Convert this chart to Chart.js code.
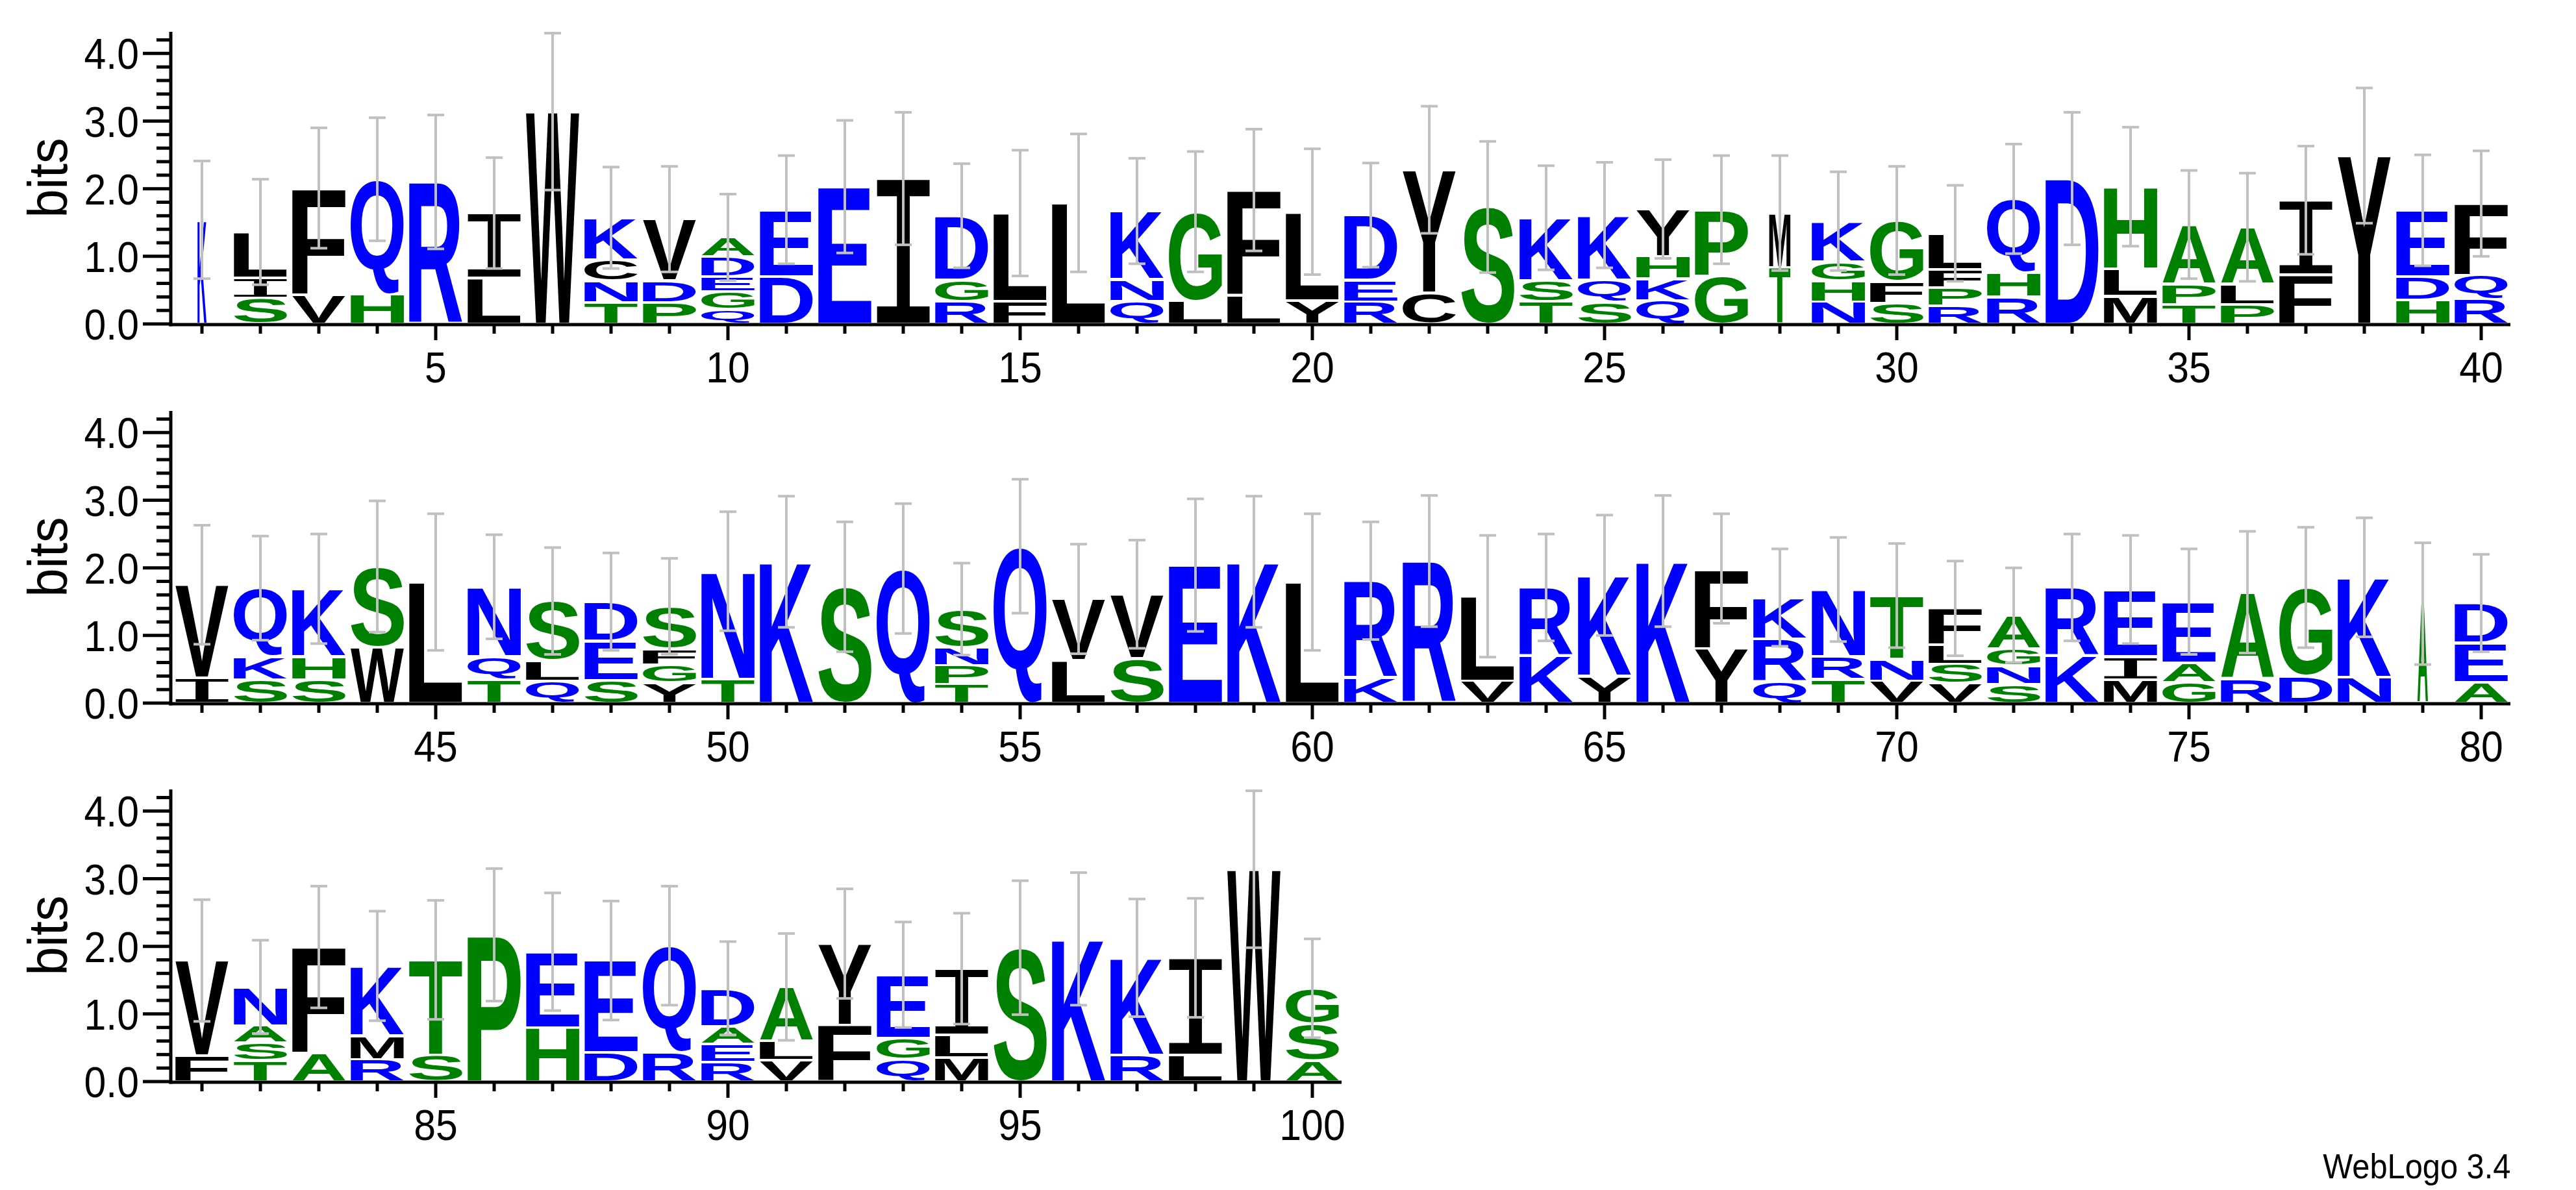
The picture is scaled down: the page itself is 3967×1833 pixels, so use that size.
<!DOCTYPE html>
<html>
<head>
<meta charset="utf-8">
<title>Sequence logo</title>
<script src="https://cdn.jsdelivr.net/npm/chart.js@4.4.0/dist/chart.umd.min.js"></script>
<style>
  html, body { margin: 0; padding: 0; background: #fff; }
  body { width: 3967px; height: 1833px; position: relative; overflow: hidden; }
  canvas { position: absolute; left: 0; }
  #credit {
    position: absolute; right: 101px; top: 1770px;
    font: 53px "Liberation Sans", Arial, sans-serif; line-height: 53px;
    transform: scaleX(0.92); transform-origin: right center; color: #000;
  }
</style>
</head>
<body>
<canvas id="row1" width="3967" height="640" style="top:0px"></canvas>
<canvas id="row2" width="3967" height="640" style="top:584px"></canvas>
<canvas id="row3" width="3967" height="640" style="top:1167px"></canvas>
<div id="credit">WebLogo 3.4</div>
<script>
// letters of each stack, bottom to top
const stackLetters = [
    'K', 'SIL', 'VF', 'HQ', 'R', 'LI', 'W', 'TNCK', 'PDV', 'QGEDA',
    'DE', 'E', 'I', 'RGD', 'FL', 'L', 'QNK', 'LG', 'LF', 'YL',
    'RED', 'CY', 'S', 'TSK', 'SQK', 'QKHY', 'GP', 'TM', 'NHGK', 'SFG',
    'RPFL', 'RHQ', 'D', 'MLH', 'TPA', 'PLA', 'FI', 'Y', 'HDE', 'RQF',
    'IV', 'SKQ', 'SHK', 'WS', 'L', 'TQN', 'QLS', 'SED', 'YGFS', 'TN',
    'K', 'S', 'Q', 'TPNS', 'Q', 'LV', 'SV', 'E', 'K', 'L',
    'KR', 'R', 'VL', 'KR', 'YK', 'K', 'YF', 'QRK', 'TRN', 'VNT',
    'VSLF', 'SNGA', 'KR', 'MIE', 'GAE', 'RA', 'DG', 'NK', 'A', 'AED',
    'FV', 'TSAN', 'AF', 'RMK', 'ST', 'P', 'HE', 'DE', 'RQ', 'READ',
    'VLA', 'FY', 'QGE', 'MLI', 'S', 'K', 'RK', 'LI', 'W', 'ASG'
];

// height of each letter in bits, same order
const stackHeights = [
    [1.54], [0.38, 0.30, 0.68], [0.43, 1.58], [0.44, 1.70], [2.10],
    [0.68, 0.96], [3.14], [0.32, 0.32, 0.31, 0.62], [0.32, 0.32, 0.91], [0.22, 0.26, 0.22, 0.30, 0.28],
    [0.70, 0.99], [2.03], [2.15], [0.33, 0.32, 0.95], [0.34, 1.30],
    [1.79], [0.34, 0.32, 1.01], [0.34, 1.32], [0.42, 1.56], [0.35, 1.31],
    [0.33, 0.32, 0.96], [0.46, 1.82], [1.73], [0.33, 0.31, 0.93], [0.33, 0.32, 0.96],
    [0.35, 0.32, 0.33, 0.70], [0.71, 0.98], [0.84, 0.80], [0.33, 0.31, 0.28, 0.60], [0.31, 0.32, 0.90],
    [0.27, 0.27, 0.27, 0.53], [0.40, 0.36, 1.09], [2.15], [0.41, 0.41, 1.21], [0.29, 0.30, 0.88],
    [0.29, 0.30, 0.84], [0.73, 1.10], [2.49], [0.36, 0.34, 0.98], [0.37, 0.35, 1.06],
    [0.37, 1.38], [0.35, 0.34, 1.01], [0.35, 0.34, 1.00], [0.83, 1.19], [1.79],
    [0.35, 0.34, 1.03], [0.33, 0.30, 0.88], [0.34, 0.58, 0.58], [0.30, 0.27, 0.24, 0.62], [0.36, 1.59],
    [2.09], [1.72], [1.99], [0.28, 0.28, 0.27, 0.56], [2.32],
    [0.63, 0.91], [0.66, 0.95], [2.04], [2.09], [1.79],
    [0.37, 1.44], [2.10], [0.33, 1.25], [0.70, 1.01], [0.40, 1.49],
    [2.10], [0.81, 1.18], [0.32, 0.63, 0.61], [0.35, 0.34, 0.99], [0.33, 0.32, 0.94],
    [0.29, 0.29, 0.28, 0.54], [0.28, 0.27, 0.25, 0.50], [0.70, 1.01], [0.35, 0.34, 0.99], [0.31, 0.29, 0.90],
    [0.36, 1.28], [0.40, 1.31], [0.38, 1.48], [1.47], [0.31, 0.58, 0.59],
    [0.38, 1.41], [0.31, 0.26, 0.26, 0.57], [0.42, 1.57], [0.33, 0.35, 1.03], [0.39, 1.41],
    [2.17], [0.80, 1.12], [0.43, 1.36], [0.43, 1.58], [0.29, 0.27, 0.26, 0.56],
    [0.32, 0.28, 0.80], [0.84, 1.20], [0.33, 0.31, 0.94], [0.36, 0.33, 0.98], [1.98],
    [2.11], [0.39, 1.44], [0.39, 1.44], [3.14], [0.31, 0.55, 0.52]
];

// half length of the error bar at each stack, in bits
const stackErrors = [
    0.87, 0.78, 0.89, 0.91, 0.99, 0.82, 1.16, 0.75, 0.78, 0.64,
    0.80, 0.98, 0.98, 0.77, 0.93, 1.02, 0.78, 0.89, 0.90, 0.93,
    0.77, 0.94, 0.97, 0.77, 0.78, 0.73, 0.80, 0.85, 0.73, 0.80,
    0.71, 0.81, 0.98, 0.88, 0.80, 0.80, 0.80, 1.00, 0.82, 0.78,
    0.88, 0.77, 0.81, 0.97, 1.01, 0.77, 0.79, 0.72, 0.71, 0.88,
    0.97, 0.96, 0.96, 0.68, 0.99, 0.81, 0.80, 0.98, 0.97, 1.01,
    0.87, 0.97, 0.90, 0.79, 0.89, 0.97, 0.81, 0.72, 0.77, 0.77,
    0.70, 0.70, 0.79, 0.80, 0.78, 0.90, 0.89, 0.88, 0.90, 0.72,
    0.90, 0.69, 0.90, 0.81, 0.88, 0.98, 0.87, 0.88, 0.88, 0.69,
    0.79, 0.81, 0.78, 0.82, 0.99, 0.98, 0.87, 0.88, 1.16, 0.73
];

// relative stack width (fraction of sequences without a gap)
const stackWidths = [
    0.17, 1, 1, 1, 1, 1, 1, 1, 1, 1,   1, 1, 1, 1, 1, 1, 1, 1, 1, 1,
    1, 1, 1, 1, 1, 1, 1, 0.40, 1, 1,   1, 1, 1, 1, 1, 1, 1, 1, 1, 1,
    1, 1, 1, 1, 1, 1, 1, 1, 1, 1,      1, 1, 1, 1, 1, 1, 1, 1, 1, 1,
    1, 1, 1, 1, 1, 1, 1, 1, 1, 1,      1, 1, 1, 1, 1, 1, 1, 1, 0.20, 1,
    1, 1, 1, 1, 1, 1, 1, 1, 1, 1,      1, 1, 1, 1, 1, 1, 1, 1, 1, 1
];

const rowFirst = [1, 41, 81];
const rowCount = [40, 40, 20];
const bitTickValues = [0, 1, 2, 3, 4];
const bitTickLabels = ['0.0', '1.0', '2.0', '3.0', '4.0'];
const yMax = 4.32;

// hydrophobicity colour scheme
const hydrophilic = 'RKDENQ';
const neutral = 'SGHTAP';
const colorHydrophilic = '#0000ff';
const colorNeutral = '#008000';
const colorHydrophobic = '#000000';

const labelFont = '"Liberation Sans", Arial, sans-serif';

function letterColor(ch) {
    if (hydrophilic.includes(ch)) return colorHydrophilic;
    if (neutral.includes(ch)) return colorNeutral;
    return colorHydrophobic;
}

const glyphCache = {};
function glyphBox(ctx, ch) {
    if (glyphCache[ch]) return glyphCache[ch];
    // the logo's I has serifs and a thin stem
    const font = ch === 'I'
        ? '200px "DejaVu Sans Mono", monospace'
        : 'bold 200px "Liberation Sans", Arial, sans-serif';
    ctx.save();
    ctx.font = font;
    const m = ctx.measureText(ch);
    ctx.restore();
    glyphCache[ch] = {
        font: font,
        left: m.actualBoundingBoxLeft,
        width: m.actualBoundingBoxLeft + m.actualBoundingBoxRight,
        ascent: m.actualBoundingBoxAscent,
        height: m.actualBoundingBoxAscent + m.actualBoundingBoxDescent
    };
    return glyphCache[ch];
}

// stretch one glyph so that its ink fills the box
function drawLetter(ctx, ch, x0, x1, yTop, yBot) {
    const g = glyphBox(ctx, ch);
    ctx.save();
    ctx.translate(x0, yTop);
    ctx.scale((x1 - x0) / g.width, (yBot - yTop) / g.height);
    ctx.font = g.font;
    ctx.textAlign = 'left';
    ctx.textBaseline = 'alphabetic';
    ctx.fillStyle = letterColor(ch);
    ctx.fillText(ch, g.left, g.ascent);
    ctx.restore();
}

function line(ctx, x0, y0, x1, y1) {
    ctx.beginPath();
    ctx.moveTo(x0, y0);
    ctx.lineTo(x1, y1);
    ctx.stroke();
}

function narrowText(ctx, text, x, y, size, align) {
    ctx.save();
    ctx.translate(x, y);
    ctx.scale(0.92, 1);
    ctx.font = size + 'px ' + labelFont;
    ctx.textAlign = align;
    ctx.textBaseline = 'alphabetic';
    ctx.fillStyle = '#000';
    ctx.fillText(text, 0, 0);
    ctx.restore();
}

function makeLogoPlugin(idx) {
    return {
        id: 'logo',
        afterDatasetsDraw(chart) {
            const ctx = chart.ctx;
            const xs = chart.scales.x;
            const ys = chart.scales.y;

            // letters
            chart.data.datasets.forEach((ds, k) => {
                const meta = chart.getDatasetMeta(k);
                meta.data.forEach((bar, j) => {
                    const i = idx[j];
                    const ch = stackLetters[i][k];
                    if (!ch) return;
                    const p = bar.getProps(['x', 'y', 'base', 'width'], true);
                    const half = p.width * stackWidths[i] / 2;
                    const top = Math.min(p.y, p.base) + 2;
                    const bot = Math.max(p.y, p.base) - 2;
                    if (bot - top < 1) return;
                    drawLetter(ctx, ch, p.x - half, p.x + half, top, bot);
                });
            });

            // error bars
            ctx.save();
            ctx.strokeStyle = '#c0c0c0';
            ctx.lineWidth = 4;
            idx.forEach((i, j) => {
                const total = stackHeights[i].reduce((s, v) => s + v, 0);
                const x = xs.getPixelForValue(j);
                const yHi = ys.getPixelForValue(total + stackErrors[i]);
                const yLo = ys.getPixelForValue(total - stackErrors[i]);
                line(ctx, x, yHi, x, yLo);
                line(ctx, x - 13, yHi, x + 13, yHi);
                line(ctx, x - 13, yLo, x + 13, yLo);
            });
            ctx.restore();
        },
        afterDraw(chart) {
            const ctx = chart.ctx;
            const a = chart.chartArea;
            const xs = chart.scales.x;
            const ys = chart.scales.y;
            const base = ys.getPixelForValue(0);
            const ax = a.left - 3;

            ctx.save();
            ctx.strokeStyle = '#000';
            ctx.lineWidth = 5;

            // y axis with minor ticks every 0.2 bits
            line(ctx, ax, ys.getPixelForValue(yMax), ax, base + 3.5);
            for (let k = 0; k <= 21; k++) {
                const y = ys.getPixelForValue(k * 0.2);
                line(ctx, ax - (k % 5 === 0 ? 43 : 22), y, ax, y);
            }
            bitTickValues.forEach((v, n) => {
                narrowText(ctx, bitTickLabels[n], a.left - 52, ys.getPixelForValue(v) + 24, 66, 'right');
            });

            // axis title
            ctx.save();
            ctx.translate(103, (a.top + a.bottom) / 2);
            ctx.rotate(-Math.PI / 2);
            ctx.scale(0.92, 1);
            ctx.font = '86px ' + labelFont;
            ctx.textAlign = 'center';
            ctx.textBaseline = 'alphabetic';
            ctx.fillStyle = '#000';
            ctx.fillText('bits', 0, 0);
            ctx.restore();

            // x axis with a tick per position
            line(ctx, ax - 2.5, base + 1, a.right, base + 1);
            idx.forEach((i, j) => {
                const x = xs.getPixelForValue(j);
                const pos = i + 1;
                const major = pos % 5 === 0;
                line(ctx, x, base + 1, x, base + (major ? 25 : 15));
                if (major) narrowText(ctx, String(pos), x, base + 90, 66, 'center');
            });
            ctx.restore();
        }
    };
}

function makeRow(canvasId, first, count) {
    const idx = [];
    for (let j = 0; j < count; j++) idx.push(first - 1 + j);
    const labels = idx.map(i => String(i + 1));
    const depth = Math.max(...idx.map(i => stackLetters[i].length));

    const datasets = [];
    for (let k = 0; k < depth; k++) {
        datasets.push({
            label: 'layer ' + (k + 1),
            data: idx.map(i => (stackHeights[i][k] !== undefined ? stackHeights[i][k] : null)),
            backgroundColor: 'rgba(0,0,0,0)',
            borderWidth: 0,
            barPercentage: 1,
            categoryPercentage: 0.91,
            stack: 'logo'
        });
    }

    const ctx = document.getElementById(canvasId).getContext('2d');
    const rightPad = 3967 - (266 + count * 90);
    return new Chart(ctx, {
        type: 'bar',
        data: { labels: labels, datasets: datasets },
        options: {
            responsive: false,
            animation: false,
            devicePixelRatio: 1,
            events: [],
            layout: { padding: { left: 266, right: rightPad, top: 49, bottom: 141 } },
            plugins: { legend: { display: false }, tooltip: { enabled: false } },
            scales: {
                x: { type: 'category', stacked: true, display: false, offset: true },
                y: { stacked: true, display: false, min: 0, max: yMax }
            }
        },
        plugins: [makeLogoPlugin(idx)]
    });
}

rowFirst.forEach((first, r) => makeRow('row' + (r + 1), first, rowCount[r]));
</script>
</body>
</html>
